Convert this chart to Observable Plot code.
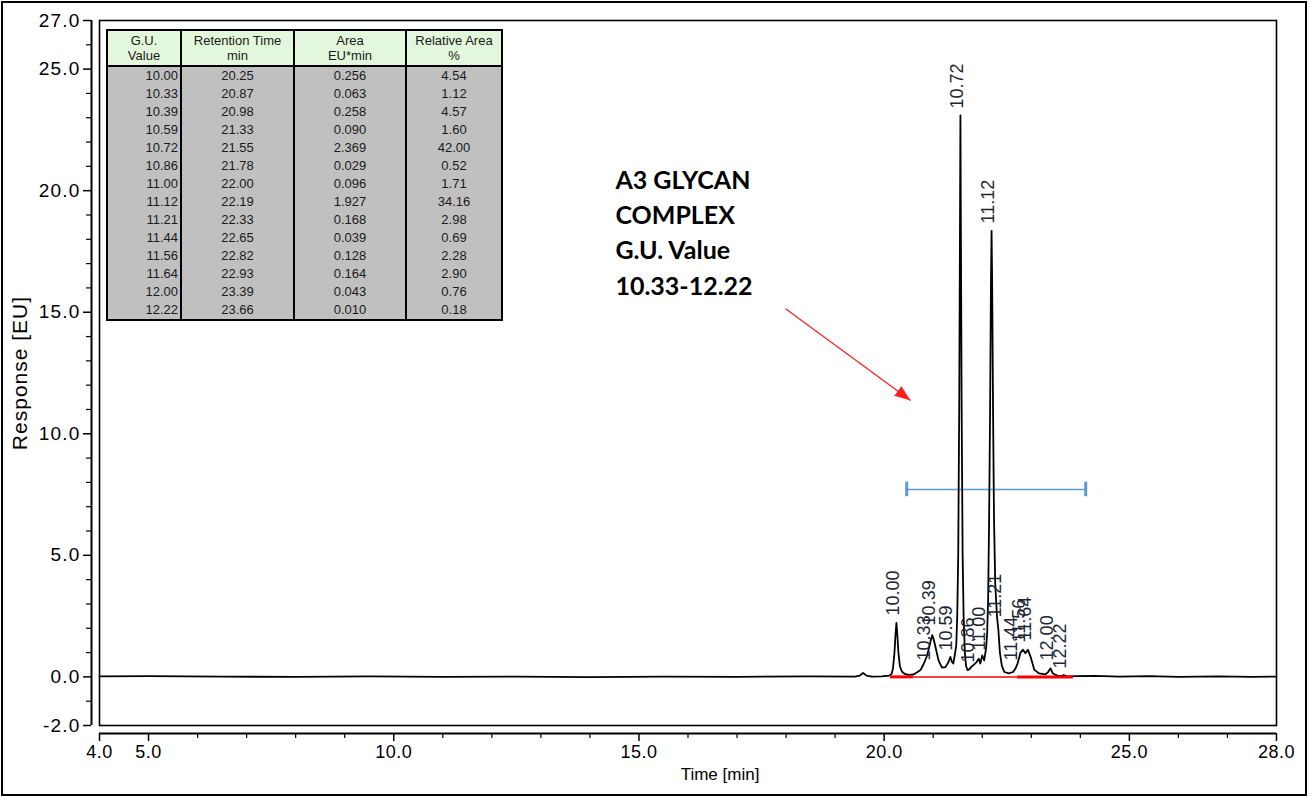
<!DOCTYPE html>
<html>
<head>
<meta charset="utf-8">
<script src="https://cdn.jsdelivr.net/npm/d3@7"></script>
<script src="https://cdn.jsdelivr.net/npm/@observablehq/plot@0.6"></script>
<style>
  body { margin: 0; background: #fff; }
  #wrap { position: relative; width: 1310px; height: 797px; overflow: hidden; font-family: "Liberation Sans", Arial, sans-serif; background: #fff; }
  #chart { position: absolute; left: 0; top: 0; }
  #border { position: absolute; left: 1px; top: 1px; width: 1302px; height: 791px; border: 2px solid #000; pointer-events: none; }
  #tbl { position: absolute; left: 106px; top: 29px; }
  #tbl table { border-collapse: collapse; table-layout: fixed; width: 395px; border: 2px solid #000; font-size: 13px; color: #1a1a1a; }
  #tbl th { background: #e3f7dc; border: 2px solid #000; height: 34px; font-weight: normal; line-height: 15px; padding: 0; text-align: center; }
  #tbl td { background: #c0c0c0; border-left: 2px solid #000; border-right: 2px solid #000; height: 18px; line-height: 18px; padding: 0; text-align: center; }
  #tbl td.r { text-align: right; padding-right: 2px; }
</style>
</head>
<body>
<div id="wrap">
  <div id="chart"></div>
  <div id="tbl"></div>
  <div id="border"></div>
</div>
<script>
// ---------- DATA ----------
const guValues       = [10.00, 10.33, 10.39, 10.59, 10.72, 10.86, 11.00, 11.12, 11.21, 11.44, 11.56, 11.64, 12.00, 12.22];
const retentionTimes = [20.25, 20.87, 20.98, 21.33, 21.55, 21.78, 22.00, 22.19, 22.33, 22.65, 22.82, 22.93, 23.39, 23.66];
const areas          = [0.256, 0.063, 0.258, 0.090, 2.369, 0.029, 0.096, 1.927, 0.168, 0.039, 0.128, 0.164, 0.043, 0.010];
const relativeAreas  = [4.54, 1.12, 4.57, 1.60, 42.00, 0.52, 1.71, 34.16, 2.98, 0.69, 2.28, 2.90, 0.76, 0.18];
// response at each labelled peak
const peakHeights    = [2.24, 0.39, 1.83, 0.80, 23.09, 0.30, 0.80, 18.36, 2.16, 0.39, 1.13, 1.21, 0.39, 0.06];

const tableHeaders = [["G.U.", "Value"], ["Retention Time", "min"], ["Area", "EU*min"], ["Relative Area", "%"]];

// chromatogram trace (time [min], response [EU])
const traceTime = [4.0, 5.0, 6.5, 8.0, 9.5, 11.0, 12.5, 14.0, 15.5, 17.0, 18.5, 19.4, 19.5, 19.57, 19.64, 19.75, 19.95, 20.1,
  20.15, 20.18, 20.21, 20.23, 20.25, 20.27, 20.29, 20.32, 20.36, 20.42, 20.5, 20.6, 20.68, 20.74, 20.81, 20.87, 20.91, 20.95,
  20.98, 21.01, 21.05, 21.11, 21.18, 21.25, 21.31, 21.35, 21.38, 21.41, 21.44, 21.47, 21.49, 21.51, 21.53, 21.545, 21.555,
  21.565, 21.58, 21.60, 21.62, 21.645, 21.67, 21.70, 21.74, 21.78, 21.83, 21.88, 21.93, 21.96, 22.0, 22.04, 22.08, 22.10,
  22.12, 22.14, 22.16, 22.177, 22.19, 22.203, 22.22, 22.24, 22.265, 22.30, 22.33, 22.36, 22.40, 22.45, 22.54, 22.63, 22.68,
  22.72, 22.78, 22.83, 22.88, 22.93, 22.99, 23.06, 23.16, 23.29, 23.35, 23.39, 23.44, 23.53, 23.63, 23.66, 23.72, 23.9,
  24.3, 24.8, 25.4, 26.0, 26.8, 27.5, 28.0];
const traceResp = [0.02, 0.03, 0.01, 0.0, 0.02, 0.0, 0.01, -0.01, 0.01, 0.0, 0.02, 0.01, 0.05, 0.16, 0.05, 0.01, 0.02, 0.05,
  0.12, 0.35, 1.0, 1.7, 2.22, 1.7, 1.0, 0.45, 0.22, 0.12, 0.08, 0.1, 0.2, 0.28, 0.55, 0.85, 1.15, 1.5,
  1.72, 1.55, 1.2, 0.67, 0.38, 0.4, 0.6, 0.82, 0.62, 0.55, 0.9, 1.3, 2.5, 5, 11, 18, 23.1,
  18, 11, 5, 2.5, 1.0, 0.45, 0.28, 0.32, 0.42, 0.5, 0.6, 0.75, 0.55, 0.88, 0.68, 1.2, 1.8,
  3.2, 6.5, 11, 16, 18.35, 16, 11, 6.5, 3.8, 2.5, 1.9, 1.0, 0.45, 0.2, 0.14, 0.2, 0.35,
  0.55, 1.0, 1.12, 0.97, 1.12, 0.8, 0.3, 0.14, 0.1, 0.22, 0.35, 0.14, 0.05, 0.04, 0.07, 0.02, 0.03,
  0.04, 0.01, 0.03, 0.0, 0.02, 0.0, 0.01];

// integration baseline break points (min)
const baselineBreaks = [20.13, 20.6, 22.72, 23.86];
// blue bracket marking the A3 range
const bracketRange = [20.46, 24.11];
const bracketLevel = 7.71;
// annotation
const annotationText = ["A3 GLYCAN", "COMPLEX", "G.U. Value", "10.33-12.22"];
const annotationAt = {t: 14.52, r: 18.36};
const arrowFrom = {t: 17.99, r: 15.14};
const arrowTo = {t: 20.54, r: 11.37};

// axes
const xDomain = [4, 28];
const yDomain = [-2, 27];
const xMajorTicks = [4, 5, 10, 15, 20, 25, 28];
const yMajorTicks = [-2, 0, 5, 10, 15, 20, 25, 27];

// ---------- BUILD ----------
const xMinorTicks = d3.range(xDomain[0], xDomain[1] + 1).filter(v => !xMajorTicks.includes(v));
const yMinorTicks = d3.range(yDomain[0], yDomain[1] + 1).filter(v => !yMajorTicks.includes(v));
const trace = traceTime.map((t, i) => ({t, r: traceResp[i]}));
const peaks = guValues.map((g, i) => ({gu: g, rt: retentionTimes[i], h: peakHeights[i]}));
const segs = d3.pairs(baselineBreaks).map(([a, b], i) => ({a, b, i}));
const last = segs.length - 1;

function filledArrow(color) {
  const ns = "http://www.w3.org/2000/svg";
  const m = document.createElementNS(ns, "marker");
  m.setAttribute("viewBox", "-16 -6 16 12");
  m.setAttribute("markerWidth", "16");
  m.setAttribute("markerHeight", "12");
  m.setAttribute("markerUnits", "userSpaceOnUse");
  m.setAttribute("orient", "auto");
  m.setAttribute("refX", "0");
  m.setAttribute("refY", "0");
  const p = document.createElementNS(ns, "path");
  p.setAttribute("d", "M-16,-6L0,0L-16,6Z");
  p.setAttribute("fill", color);
  p.setAttribute("stroke", "none");
  m.appendChild(p);
  return m;
}

const font = '"Liberation Sans", Arial, sans-serif';
const chart = Plot.plot({
  width: 1310,
  height: 797,
  marginLeft: 99,
  marginRight: 34,
  marginTop: 20,
  marginBottom: 72,
  x: {domain: xDomain, label: null},
  y: {domain: yDomain, label: null},
  style: {fontFamily: font, background: "transparent", color: "#000"},
  marks: [
    Plot.frame({stroke: "#000", strokeWidth: 1.6}),
    // y axis (offset to the left of the frame)
    Plot.ruleX([xDomain[0]], {y1: yDomain[0], y2: yDomain[1], dx: -8, stroke: "#000", strokeWidth: 2}),
    Plot.axisY(yMajorTicks, {tickSize: 8, dx: -8, tickPadding: 3, tickFormat: d => d.toFixed(1), fontSize: 19, label: null, strokeWidth: 1.5}),
    Plot.axisY(yMinorTicks, {tickSize: 5, dx: -8, tickFormat: () => "", label: null, strokeWidth: 1.2}),
    // x axis (offset below the frame)
    Plot.ruleY([yDomain[0]], {x1: xDomain[0], x2: xDomain[1], dy: 8, stroke: "#000", strokeWidth: 2}),
    Plot.axisX(xMajorTicks, {tickSize: 8, dy: 8, tickPadding: 4, tickFormat: d => d.toFixed(1), fontSize: 18, label: null, strokeWidth: 1.5}),
    Plot.axisX(xMinorTicks, {tickSize: 5, dy: 8, tickFormat: () => "", label: null, strokeWidth: 1.2}),
    Plot.text(["Response [EU]"], {text: d => d, frameAnchor: "left", textAnchor: "middle", dx: -79, rotate: -90, fontSize: 21}),
    Plot.text(["Time [min]"], {text: d => d, frameAnchor: "bottom", dx: 32, dy: 54, fontSize: 17}),
    // blue bracket
    Plot.ruleY([bracketLevel], {x1: bracketRange[0], x2: bracketRange[1], stroke: "#5b9bd5", strokeWidth: 1.5}),
    Plot.ruleX(bracketRange, {y1: bracketLevel - 0.3, y2: bracketLevel + 0.3, stroke: "#5b9bd5", strokeWidth: 3}),
    // trace
    Plot.line(trace, {x: "t", y: "r", stroke: "#000", strokeWidth: 1.8}),
    // integration baseline
    Plot.ruleY(segs.filter(s => s.i > 0 && s.i < last), {y: 0, x1: "a", x2: "b", stroke: "#ff0000", strokeWidth: 1.5}),
    Plot.ruleY(segs.filter(s => s.i === 0 || s.i === last), {y: 0, x1: "a", x2: "b", stroke: "#ff0000", strokeWidth: 3}),
    // peak labels
    Plot.text(peaks, {x: "rt", y: "h", text: d => d.gu.toFixed(2), rotate: -90, textAnchor: "start", dy: -7, dx: -3, fontSize: 18, fill: "#1c2733"}),
    // annotation
    Plot.text([annotationAt], {x: "t", y: "r", text: () => annotationText.join("\n"), textAnchor: "start", lineAnchor: "middle",
      lineHeight: 1.41, fontSize: 25, fontWeight: "bold", fontFamily: "Lato, 'Open Sans', sans-serif", fill: "#000"}),
    Plot.link([{a: arrowFrom, b: arrowTo}], {x1: d => d.a.t, y1: d => d.a.r, x2: d => d.b.t, y2: d => d.b.r,
      stroke: "#ff2020", strokeWidth: 1.3, markerEnd: filledArrow})
  ]
});
d3.select(chart).selectAll('[aria-label="y-axis tick label"] text').style("letter-spacing", "1.2px");
d3.select(chart).selectAll('[aria-label="x-axis tick label"] text').style("letter-spacing", "0.5px");
d3.select(chart).selectAll('[aria-label="text"] text').filter(function () { return this.textContent === "Response [EU]"; }).style("letter-spacing", "1px");
document.getElementById("chart").appendChild(chart);

// ---------- TABLE ----------
const colWidths = [74, 113, 112, 96];
let html = "<table><colgroup>" + colWidths.map(w => `<col style="width:${w}px">`).join("") + "</colgroup><thead><tr>" +
  tableHeaders.map(h => `<th>${h[0]}<br>${h[1]}</th>`).join("") + "</tr></thead><tbody>";
guValues.forEach((g, i) => {
  html += `<tr><td class="r">${g.toFixed(2)}</td><td>${retentionTimes[i].toFixed(2)}</td><td>${areas[i].toFixed(3)}</td><td>${relativeAreas[i].toFixed(2)}</td></tr>`;
});
html += "</tbody></table>";
document.getElementById("tbl").innerHTML = html;
</script>
</body>
</html>
